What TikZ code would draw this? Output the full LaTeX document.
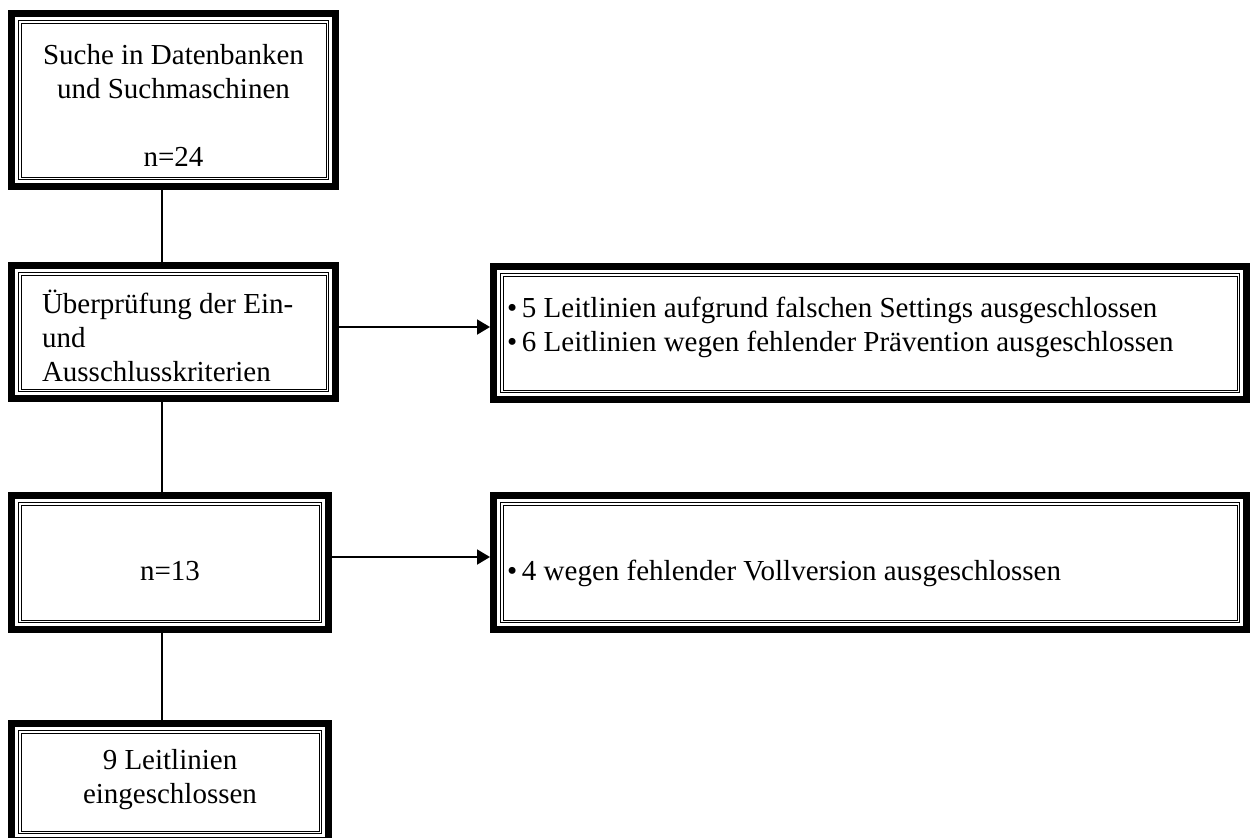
\documentclass[tikz,border=0pt]{standalone}
\usepackage{fontspec}
\setmainfont{Liberation Serif}
\usetikzlibrary{arrows.meta}

\begin{document}
\begin{tikzpicture}[x=0.5pt,y=-0.5pt]
			\tikzstyle{every node}+=[inner sep=0pt, font=\fontsize{14.5}{17}\selectfont]
			\tikzstyle{flowbox}=[draw=black, line width=3.5pt, rectangle, path picture={
				\draw [black, line width=0.75pt] ([shift={(3.5pt,-3.5pt)}]path picture bounding box.north west) rectangle ([shift={(-3.5pt,3.5pt)}]path picture bounding box.south east);
				\draw [black, line width=0.5pt] ([shift={(4.75pt,-4.75pt)}]path picture bounding box.north west) rectangle ([shift={(-4.75pt,4.75pt)}]path picture bounding box.south east);
			}]
			\tikzstyle{link}=[black, line width=0.9pt]
			\tikzstyle{arr}=[link, -{Triangle[length=6.5pt,width=7.5pt]}]
			\useasboundingbox (0,0) rectangle (1251,837);
			\node [flowbox, minimum width=162pt, minimum height=86.5pt, text height=10pt, text depth=46pt] (search) at (173.5,100) {\begin{tabular}[t]{@{}c@{}}Suche in Datenbanken\\und Suchmaschinen\\\\n=24\end{tabular}};
			\node [flowbox, minimum width=162pt, minimum height=66.5pt, inner xsep=15.25pt, text height=10pt, text depth=29pt] (check) at (173.5,332) {\begin{tabular}[t]{@{}p{131.5pt}@{}}Überprüfung der Ein-\\und\\Ausschlusskriterien\end{tabular}};
			\node [flowbox, minimum width=158.5pt, minimum height=67pt, text height=21pt, text depth=3.5pt] (count) at (170,562.5) {n=13};
			\node [flowbox, minimum width=158.5pt, minimum height=58.5pt, text height=10pt, text depth=23pt] (result) at (170,782) {\begin{tabular}[t]{@{}c@{}}9 Leitlinien\\eingeschlossen\end{tabular}};
			\node [flowbox, minimum width=376.5pt, minimum height=66.5pt, inner xsep=6.75pt, text height=10pt, text depth=26pt] (excl1) at (870,333) {\begin{tabular}[t]{@{}p{363pt}@{}}\textbullet\,5 Leitlinien aufgrund falschen Settings ausgeschlossen\\\textbullet\,6 Leitlinien wegen fehlender Prävention ausgeschlossen\end{tabular}};
			\node [flowbox, minimum width=376.5pt, minimum height=67pt, inner xsep=6.75pt, text height=21pt, text depth=3.5pt] (excl2) at (870,562.5) {\begin{tabular}[t]{@{}p{363pt}@{}}\textbullet\,4 wegen fehlender Vollversion ausgeschlossen\end{tabular}};
			\coordinate (spine) at (162,0);
			\draw [link] (search.south -| spine) -- (check.north -| spine);
			\draw [link] (check.south -| spine) -- (count.north -| spine);
			\draw [link] (count.south -| spine) -- (result.north -| spine);
			\draw [arr] ([yshift=2.5pt]check.east) -- ([yshift=2.5pt]check.east -| excl1.west);
			\draw [arr] ([yshift=2.75pt]count.east) -- ([yshift=2.75pt]count.east -| excl2.west);
\end{tikzpicture}
\end{document}
